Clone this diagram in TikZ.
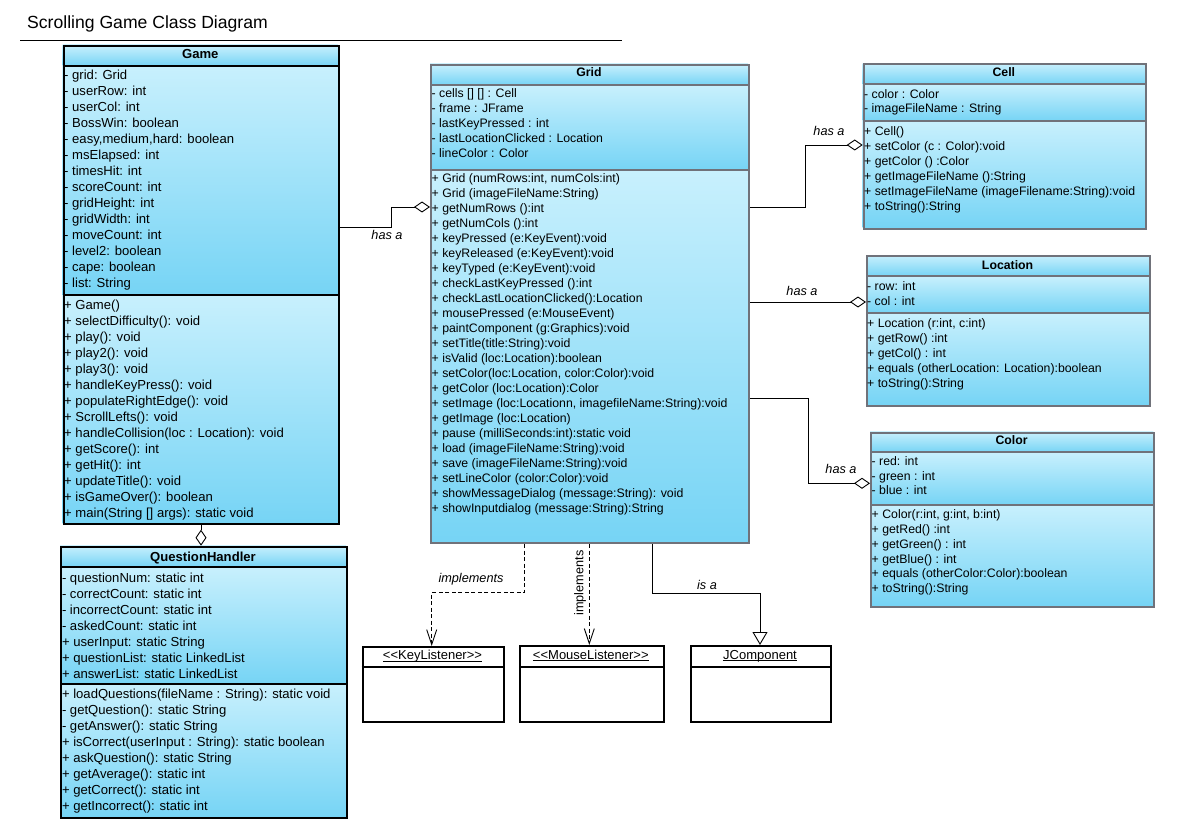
\documentclass[tikz,border=0pt]{standalone}
\usepackage{fontspec}
\setmainfont{Liberation Sans}
\usetikzlibrary{arrows.meta}
\definecolor{ctop}{RGB}{200,240,253}
\definecolor{cbot}{RGB}{118,212,245}
\definecolor{gborder}{RGB}{112,114,122}
\tikzset{
  bigtxt/.style={anchor=base west, inner sep=0, font=\fontsize{13.1}{16}\selectfont},
  smtxt/.style={anchor=base west, inner sep=0, font=\fontsize{12.3}{15}\selectfont},
  bighead/.style={anchor=base, inner sep=0, font=\fontsize{13.1}{16}\selectfont\bfseries},
  smhead/.style={anchor=base, inner sep=0, font=\fontsize{12.3}{15}\selectfont\bfseries},
  ifhead/.style={anchor=base, inner sep=0, font=\fontsize{13}{15}\selectfont},
  lbl/.style={anchor=base, inner sep=0, font=\fontsize{12.7}{15}\selectfont\itshape},
  conn/.style={line width=0.9pt, black},
  agg/.style={conn, -{Diamond[open, length=16pt, width=11pt, line width=0.9pt]}},
  dep/.style={conn, dash pattern=on 4pt off 2.5pt, -{Straight Barb[length=15pt, width=10pt, line width=0.9pt]}},
  gen/.style={conn, -{Triangle[open, length=13pt, width=15pt, line width=0.9pt]}},
  ifbox/.style={draw=black, line width=2pt, fill=white, inner sep=0, anchor=north west}
}
% name, x1, y1, x2, y2, sep1, sep2, border colour
\newcommand\umlclass[8]{%
  \shade[top color=ctop,bottom color=cbot] (#2,#3) rectangle (#4,#6);
  \shade[top color=ctop,bottom color=cbot] (#2,#6) rectangle (#4,#7);
  \shade[top color=ctop,bottom color=cbot] (#2,#7) rectangle (#4,#5);
  \node[draw=#8, line width=2pt, inner sep=0, anchor=north west,
        minimum width={#4-#2}, minimum height={#5-#3}] (#1) at (#2,#3) {};
  \draw[#8, line width=2pt] (#1.west |- 0,#6) -- (#1.east |- 0,#6);
  \draw[#8, line width=2pt] (#1.west |- 0,#7) -- (#1.east |- 0,#7);
}
% name prefix, style, x, y0, dy, list
\newcommand\classlines[6]{%
  \foreach \t [count=\i from 0] in {#6} \node[#2] (#1\i) at (#3,#4+#5*\i) {\t};
}
\begin{document}
\begin{tikzpicture}[x=1pt,y=-1pt]
\fill[white] (0,0) rectangle (1188,821);
\useasboundingbox (0,0) rectangle (1188,821);

% title
\node[anchor=base west, inner sep=0, font=\fontsize{17.6}{20}\selectfont] (title) at (27,29) {Scrolling Game Class Diagram};
\draw[line width=0.8pt] (20,40) -- (622,40);

% ---------------- Game
\umlclass{game}{62.5}{45}{338}{523}{66}{295}{black}
\node[bighead] (gameT) at (200.3,59) {Game};
\classlines{gA}{bigtxt}{64}{79.5}{16}{{- grid: Grid},{- userRow: int},{- userCol: int},{- BossWin: boolean},{- easy,medium,hard: boolean},{- msElapsed: int},{- timesHit: int},{- scoreCount: int},{- gridHeight: int},{- gridWidth: int},{- moveCount: int},{- level2: boolean},{- cape: boolean},{- list: String}}
\classlines{gM}{bigtxt}{64}{309.2}{16}{{+ Game()},{+ selectDifficulty(): void},{+ play(): void},{+ play2(): void},{+ play3(): void},{+ handleKeyPress(): void},{+ populateRightEdge(): void},{+ ScrollLefts(): void},{+ handleCollision(loc : Location): void},{+ getScore(): int},{+ getHit(): int},{+ updateTitle(): void},{+ isGameOver(): boolean},{+ main(String [] args): static void}}

% ---------------- QuestionHandler
\umlclass{qh}{60}{545.7}{346}{817}{566.7}{684}{black}
\node[bighead] (qhT) at (203,561.3) {QuestionHandler};
\classlines{qA}{bigtxt}{61.8}{582.2}{16}{{- questionNum: static int},{- correctCount: static int},{- incorrectCount: static int},{- askedCount: static int},{+ userInput: static String},{+ questionList: static LinkedList},{+ answerList: static LinkedList}}
\classlines{qM}{bigtxt}{61.8}{698.8}{16}{{+ loadQuestions(fileName : String): static void},{- getQuestion(): static String},{- getAnswer(): static String},{+ isCorrect(userInput : String): static boolean},{+ askQuestion(): static String},{+ getAverage(): static int},{+ getCorrect(): static int},{+ getIncorrect(): static int}}

% ---------------- Grid
\umlclass{grid}{430}{64}{748}{542}{85}{170}{gborder}
\node[smhead] (gridT) at (589,77) {Grid};
\classlines{rA}{smtxt}{431.5}{97.6}{15}{{- cells [] [] : Cell},{- frame : JFrame},{- lastKeyPressed : int},{- lastLocationClicked : Location},{- lineColor : Color}}
\classlines{rM}{smtxt}{431.5}{182.6}{15}{{+ Grid (numRows:int, numCols:int)},{+ Grid (imageFileName:String)},{+ getNumRows ():int},{+ getNumCols ():int},{+ keyPressed (e:KeyEvent):void},{+ keyReleased (e:KeyEvent):void},{+ keyTyped (e:KeyEvent):void},{+ checkLastKeyPressed ():int},{+ checkLastLocationClicked():Location},{+ mousePressed (e:MouseEvent)},{+ paintComponent (g:Graphics):void},{+ setTitle(title:String):void},{+ isValid (loc:Location):boolean},{+ setColor(loc:Location, color:Color):void},{+ getColor (loc:Location):Color},{+ setImage (loc:Locationn, imagefileName:String):void},{+ getImage (loc:Location)},{+ pause (milliSeconds:int):static void},{+ load (imageFileName:String):void},{+ save (imageFileName:String):void},{+ setLineColor (color:Color):void},{+ showMessageDialog (message:String): void},{+ showInputdialog (message:String):String}}

% ---------------- Cell
\umlclass{cell}{862.7}{63.3}{1145}{227.7}{84.3}{121}{gborder}
\node[smhead] (cellT) at (1003.8,76.6) {Cell};
\classlines{cA}{smtxt}{864}{98.3}{14.4}{{- color : Color},{- imageFileName : String}}
\classlines{cM}{smtxt}{864}{135.3}{14.95}{{+ Cell()},{+ setColor (c : Color):void},{+ getColor () :Color},{+ getImageFileName ():String},{+ setImageFileName (imageFilename:String):void},{+ toString():String}}

% ---------------- Location
\umlclass{loc}{866}{255}{1149.3}{405}{276}{312.7}{gborder}
\node[smhead] (locT) at (1007.6,269.3) {Location};
\classlines{lA}{smtxt}{867}{290}{15}{{- row: int},{- col : int}}
\classlines{lM}{smtxt}{867}{327}{15}{{+ Location (r:int, c:int)},{+ getRow() :int},{+ getCol() : int},{+ equals (otherLocation: Location):boolean},{+ toString():String}}

% ---------------- Color
\umlclass{col}{870}{431.7}{1153.3}{605.7}{452.3}{505}{gborder}
\node[smhead] (colT) at (1011.6,444.5) {Color};
\classlines{oA}{smtxt}{871.5}{465.3}{14.8}{{- red: int},{- green : int},{- blue : int}}
\classlines{oM}{smtxt}{871.5}{518.6}{14.8}{{+ Color(r:int, g:int, b:int)},{+ getRed() :int},{+ getGreen() : int},{+ getBlue() : int},{+ equals (otherColor:Color):boolean},{+ toString():String}}

% ---------------- interfaces / superclass
\node[ifbox, minimum width=141.6, minimum height=75] (key) at (361.7,646) {};
\draw[line width=2pt] (key.west |- 0,667.3) -- (key.east |- 0,667.3);
\node[ifhead] (keyT) at (432.5,659.5) {<\kern0pt<KeyListener>\kern0pt>};
\draw[line width=0.8pt] ([yshift=-1.6pt]keyT.base west) -- ([yshift=-1.6pt]keyT.base east);

\node[ifbox, minimum width=143.7, minimum height=76] (mouse) at (519,645) {};
\draw[line width=2pt] (mouse.west |- 0,667) -- (mouse.east |- 0,667);
\node[ifhead] (mouseT) at (590.8,659.2) {<\kern0pt<MouseListener>\kern0pt>};
\draw[line width=0.8pt] ([yshift=-1.6pt]mouseT.base west) -- ([yshift=-1.6pt]mouseT.base east);

\node[ifbox, minimum width=140, minimum height=76] (jcomp) at (690,645) {};
\draw[line width=2pt] (jcomp.west |- 0,667) -- (jcomp.east |- 0,667);
\node[ifhead] (jcompT) at (760,659.2) {JComponent};
\draw[line width=0.8pt] ([yshift=-1.6pt]jcompT.base west) -- ([yshift=-1.6pt]jcompT.base east);

% ---------------- connectors
\draw[agg] (game.east |- 0,227.5) -| (391,207) -- (grid.west |- 0,207);
\node[lbl] (l1) at (387,239.5) {has a};

\draw[agg] (game.south -| 201,0) -- (qh.north -| 201,0);

\draw[agg] (grid.east |- 0,207) -| (805,145) -- (cell.west |- 0,145);
\node[lbl] (l2) at (829,135.5) {has a};

\draw[agg] (grid.east |- 0,302) -- (loc.west |- 0,302);
\node[lbl] (l3) at (802,295.2) {has a};

\draw[agg] (grid.east |- 0,398.3) -| (808.3,483.3) -- (col.west |- 0,483.3);
\node[lbl] (l4) at (841,473.5) {has a};

\draw[dep] (grid.south -| 524,0) |- (431.7,592.7) -- (key.north -| 431.7,0);
\node[lbl] (l5) at (471,582.5) {implements};

\draw[dep] (grid.south -| 589.3,0) -- (mouse.north -| 589.3,0);
\node[rotate=90, inner sep=0, font=\fontsize{12.7}{15}\selectfont] (l6) at (580,583) {implements};

\draw[gen] (grid.south -| 652.3,0) |- (760,593.3) -- (jcomp.north -| 760,0);
\node[lbl] (l7) at (707,589.5) {is a};
\end{tikzpicture}
\end{document}
